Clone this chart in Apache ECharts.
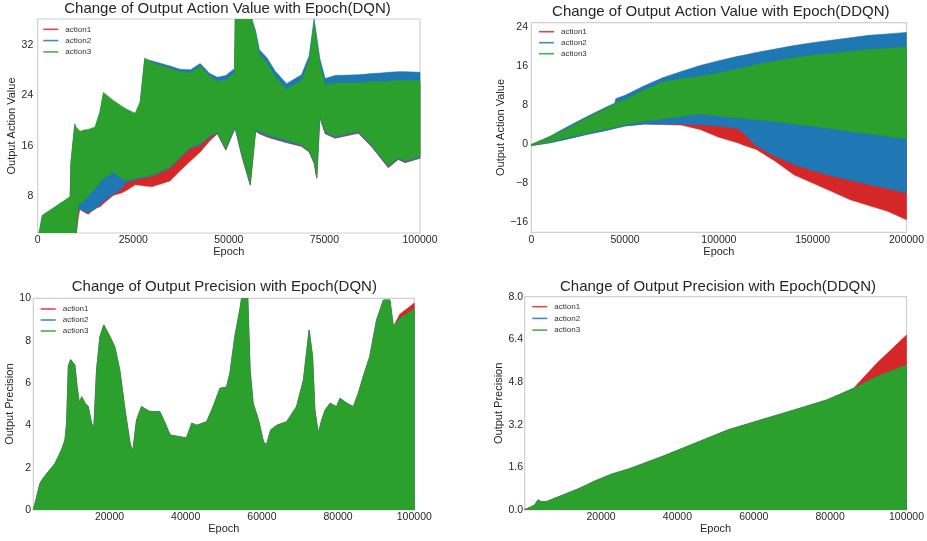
<!DOCTYPE html>
<html><head><meta charset="utf-8">
<script src="https://cdn.jsdelivr.net/npm/echarts@6/dist/echarts.min.js"></script>
<style>html,body{margin:0;padding:0;background:#fff}#c{width:927px;height:541px}</style>
</head><body><div id="c"></div>
<script>
// ---------- Top-left: Output Action Value (DQN) ----------
const tlX = [0,500,1200,8500,8700,9700,10000,10600,11100,12000,13200,15000,16300,17200,19800,22000,23300,25500,26800,28000,30000,34600,37200,40000,42500,45000,47000,49200,51500,51700,53500,55600,57000,58000,60000,62100,65100,69000,71000,72300,73000,73800,75200,77800,83900,87400,90000,91700,94300,96100,100000];
const tlA1Lo = [1.5,1.5,1.5,1.5,1.5,1.5,1.5,4.5,6.3,5.5, 5.1,6.0,6.3,6.8,8.1,8.5,8.9,9.8,9.7,9.6, 9.5,10.4,12.0,13.6,15.0,16.8,17.9,15.3,18.6,18.6, 14.1,9.7,18.3,17.9,17.4,17.0,16.5,15.9,15.0,13.2, 10.8,20.5,17.9,17.2,18.0,15.8,13.8,12.5,13.8,13.3,14.0];
const tlA1Hi = [1.5,2.3,4.6,7.5,13.0,19.0,18.5,18.0,17.7,17.9, 18.0,18.4,21.0,24.0,22.6,21.7,21.2,20.6,22.4,29.4, 28.6,27.7,27.2,27.0,28.1,26.4,25.7,25.9,26.9,37.0, 37.0,37.0,33.4,29.9,28.6,26.4,24.4,25.8,28.9,35.2, 31.9,28.4,25.1,25.4,25.4,25.6,25.6,25.7,25.8,25.8,25.8];
const tlA2Lo = [1.5,1.5,1.5,1.5,1.5,1.5,1.5,6.0,5.8,5.5, 5.4,5.9,6.6,7.1,8.3,9.2,10.2,10.6,10.8,10.9, 11.2,12.4,14.0,15.6,16.1,17.4,18.0,15.4,18.7,18.7, 14.2,9.8,18.4,18.0,17.5,17.1,16.6,16.0,15.1,13.3, 10.9,20.6,18.0,17.3,18.1,15.9,13.9,12.6,13.9,13.4,14.1];
const tlA2Hi = [1.5,2.5,4.9,7.8,13.3,19.3,18.8,18.4,18.1,18.3, 18.4,18.8,21.3,24.3,23.0,22.1,21.6,21.0,22.8,29.8, 29.5,28.7,28.2,28.1,29.1,27.5,26.9,27.2,28.3,37.0, 37.0,37.0,34.3,31.3,30.0,27.9,25.9,27.3,30.3,36.2, 33.3,29.9,26.7,27.2,27.3,27.5,27.6,27.7,27.8,27.8,27.7];
const tlA3Lo = [1.5,1.5,1.5,1.5,1.5,1.5,1.5,6.6,6.8,7.2, 8.0,9.2,10.2,10.8,11.8,10.8,10.5,10.8,11.0,11.1, 11.4,12.6,14.2,15.8,16.3,17.6,18.2,15.6,19.0,19.0, 14.5,10.0,18.7,18.3,17.8,17.4,16.9,16.2,15.3,13.5, 11.1,20.9,18.3,17.5,18.3,16.1,14.1,12.8,14.1,13.6,14.3];
const tlA3Hi = [1.5,2.5,4.9,7.9,13.5,19.5,19.0,18.6,18.3,18.5, 18.6,19.0,21.5,24.5,23.2,22.3,21.8,21.2,23.0,30.0, 29.2,28.3,27.8,27.6,28.7,27.0,26.3,26.5,27.5,37.0, 37.0,37.0,34.0,30.5,29.2,27.0,25.0,26.4,29.5,35.8, 32.5,29.0,25.7,26.0,26.0,26.2,26.2,26.3,26.4,26.4,26.4];
const tlXTicks = [0,25000,50000,75000,100000];
const tlYTicks = [8,16,24,32];

// ---------- Top-right: Output Action Value (DDQN) ----------
const trX = [0,10000,20000,30000,40000,44500,45000,50000,60000,70000,80000,90000,100000,110000,113000,120000,130000,140000,150000,160000,170000,180000,190000,200000];
const trA1Lo = [-0.2,0.4,1.25,2.15,2.95,3.35,3.4,3.85,4.2,4.1,4.0,3.1,1.5,0.35,-0.1,-1.0,-3.4,-6.2,-7.9,-9.6,-11.3,-12.5,-13.7,-15.4];
const trA1Hi = [0,1.4,3.2,5.2,7.0,7.8,8.0,8.7,10.5,12.0,12.5,13.0,13.5,14.0,14.2,14.8,15.4,16.0,16.4,16.8,17.2,17.5,17.7,18.0];
const trA2Lo = [-0.2,0.35,1.2,2.1,2.9,3.3,3.35,3.8,4.2,4.2,4.2,4.1,3.8,3.3,2.4,-0.3,-2.4,-4.1,-5.3,-6.4,-7.3,-8.2,-9.0,-9.9];
const trA2Hi = [0,1.7,3.8,5.8,7.7,8.5,9.4,10.1,12.0,13.7,15.0,16.2,17.2,18.1,18.3,18.9,19.6,20.3,20.9,21.4,21.9,22.4,22.7,23.0];
const trA3Lo = [-0.2,0.55,1.5,2.4,3.2,3.5,3.55,4.1,4.8,5.3,5.8,6.3,5.8,5.5,5.4,5.1,4.8,4.2,3.8,3.3,2.7,2.2,1.7,1.2];
const trA3Hi = [0,1.6,3.4,5.5,7.4,8.3,8.6,9.2,11.2,12.8,13.5,14.0,14.7,15.5,15.7,16.4,17.1,17.8,18.3,18.7,19.1,19.5,19.7,20.0];
const trXTicks = [0,50000,100000,150000,200000];
const trYTicks = [-16,-8,0,8,16,24];

// ---------- Bottom-left: Output Precision (DQN) ----------
const blX = [0,900,1750,2600,3900,5700,7400,8300,8750,9200,9800,10900,11500,12100,12700,13600,14400,15300,15900,16600,17500,18500,20100,21400,22700,24100,25400,26100,27100,28400,30600,33200,34600,35900,38500,40200,41600,42900,45500,47200,49000,50700,51600,52900,54200,55100,56200,56900,57700,59100,60400,61200,62300,63900,66500,69100,70900,72400,73300,73900,74800,75700,76600,77900,79600,80500,82300,84000,85300,86600,88300,90100,91900,93600,94500,96200,100000];
const blA3 = [0,0.63,1.26,1.5,1.8,2.2,2.83,3.3,4.1,6.8, 7.1,6.85,5.8,5.04,5.35,5.04,4.9,4.1,3.86,6.6, 8.2,8.74,8.2,7.7,6.6,4.7,3.15,2.76,4.25,4.88, 4.65,4.65,4.1,3.54,3.46,3.4,4.1,4.0,4.17,4.88, 5.75,5.8,6.45,8.2,9.45,10.5,10.5,6.6,5.04,4.25, 3.23,3.07,3.78,4.0,4.17,4.88,6.14,8.5,7.24,4.72, 3.62,4.25,4.72,5.04,4.88,5.28,5.04,4.88,5.51,6.3, 7.24,8.97,9.92,9.92,8.66,9.05,9.5];
const blA2 = [0,0.63,1.26,1.5,1.8,2.2,2.83,3.3,4.1,6.8, 7.1,6.85,5.8,5.04,5.35,5.04,4.9,4.1,3.86,6.6, 8.2,8.74,8.2,7.7,6.6,4.7,3.15,2.76,4.25,4.88, 4.65,4.65,4.1,3.54,3.46,3.4,4.1,4.0,4.17,4.88, 5.75,5.8,6.45,8.2,9.45,10.5,10.5,6.6,5.04,4.25, 3.23,3.07,3.78,4.0,4.17,4.88,6.14,8.5,7.24,4.72, 3.62,4.25,4.72,5.04,4.88,5.28,5.04,4.88,5.51,6.3, 7.24,8.97,9.92,9.92,8.66,9.05,9.5];
const blA1 = [0,0.63,1.26,1.5,1.8,2.2,2.83,3.3,4.1,6.8, 7.1,6.85,5.8,5.04,5.35,5.04,4.9,4.1,3.86,6.6, 8.2,8.74,8.2,7.7,6.6,4.7,3.15,2.76,4.25,4.88, 4.65,4.65,4.1,3.54,3.46,3.4,4.1,4.0,4.17,4.88, 5.75,5.8,6.45,8.2,9.45,10.5,10.5,6.6,5.04,4.25, 3.23,3.07,3.78,4.0,4.17,4.88,6.14,8.5,7.24,4.72, 3.62,4.25,4.72,5.04,4.88,5.28,5.04,4.88,5.51,6.3, 7.24,8.97,9.92,9.92,8.66,9.25,9.78];
const blXTicks = [20000,40000,60000,80000,100000];
const blYTicks = [0,2,4,6,8,10];

// ---------- Bottom-right: Output Precision (DDQN) ----------
const brX = [0,1300,2600,3500,4300,5600,10000,14300,18600,22900,27300,35900,44600,53200,61900,70600,79200,86100,92200,100000];
const brA3 = [0.02,0.09,0.19,0.38,0.31,0.31,0.56,0.81,1.1,1.35,1.54,2.0,2.5,3.0,3.38,3.75,4.13,4.56,5.0,5.44];
const brA2 = [0.02,0.09,0.19,0.38,0.31,0.31,0.56,0.81,1.1,1.35,1.54,2.0,2.5,3.0,3.38,3.75,4.13,4.56,5.0,5.44];
const brA1 = [0.02,0.09,0.19,0.38,0.31,0.31,0.56,0.81,1.1,1.35,1.54,2.0,2.5,3.0,3.38,3.75,4.13,4.56,5.5,6.56];
const brXTicks = [20000,40000,60000,80000,100000];
const brYTicks = [0,1.6,3.2,4.8,6.4,8.0];

const names = ['action1','action2','action3'];
const colors = ['#d62728','#1f77b4','#2ca02c'];
const FONT = 'Liberation Sans, Arial, Helvetica, sans-serif';
const TXT = '#262626';

// one band polygon per series, drawn from all its points through the axis scales
function band(gi, k, xs, lo, hi) {
  const data = xs.map((x, i) => [x, lo ? lo[i] : 0, hi[i]]);
  const color = colors[k];
  return {
    type: 'custom', name: names[k], xAxisIndex: gi, yAxisIndex: gi,
    clip: true, silent: true, animation: false,
    itemStyle: { color: color },
    encode: { x: 0, y: [1, 2] },
    renderItem: function (params, api) {
      if (params.dataIndexInside !== 0) return null;
      const n = params.dataInsideLength;
      const top = [], bot = [];
      for (let i = 0; i < n; i++) {
        top.push(api.coord([api.value(0, i), api.value(2, i)]));
        bot.push(api.coord([api.value(0, i), api.value(1, i)]));
      }
      return { type: 'polygon', shape: { points: top.concat(bot.reverse()) },
               style: { fill: color, stroke: color, lineWidth: 0.6 } };
    },
    data: data
  };
}

const grids = [
  { left: 37.7, top: 19, right: 507, bottom: 308 },
  { left: 531.3, top: 22.7, right: 18.3, bottom: 308.7 },
  { left: 33.3, top: 298.3, right: 512.7, bottom: 31 },
  { left: 524.7, top: 296.7, right: 17.3, bottom: 31 }
].map(g => Object.assign({ show: true, borderColor: '#d0d0d0', borderWidth: 1.2, backgroundColor: 'transparent' }, g));

const plainFmt = v => String(v);
function xAx(gi, min, max, ticks, gap) {
  return { type: 'value', gridIndex: gi, min: min, max: max,
    name: 'Epoch', nameLocation: 'middle', nameGap: gap,
    nameTextStyle: { fontSize: 11, color: TXT, fontFamily: FONT },
    axisLine: { show: false }, axisTick: { show: false }, splitLine: { show: false },
    axisLabel: { customValues: ticks, fontSize: 10.5, color: TXT, fontFamily: FONT, margin: 2,
                 showMinLabel: true, showMaxLabel: true, formatter: plainFmt } };
}
function yAx(gi, min, max, ticks, name, gap, margin, fmt) {
  return { type: 'value', gridIndex: gi, min: min, max: max,
    name: name, nameLocation: 'middle', nameGap: gap, nameRotate: 90,
    nameTextStyle: { fontSize: 11, color: TXT, fontFamily: FONT },
    axisLine: { show: false }, axisTick: { show: false }, splitLine: { show: false },
    axisLabel: { customValues: ticks, fontSize: 10.5, color: TXT, fontFamily: FONT, margin: margin,
                 showMinLabel: true, showMaxLabel: true, formatter: fmt || plainFmt } };
}
const minusFmt = v => String(v).replace('-', '\u2212');
const oneDec = v => Number(v).toFixed(1);

function legend(left, top, gap) {
  return { orient: 'vertical', left: left, top: top, padding: 0, itemGap: gap,
    itemWidth: 15, itemHeight: 1.6, icon: 'rect', selectedMode: false,
    textStyle: { fontSize: 8, color: '#333', fontFamily: FONT, lineHeight: 11, padding: [0, 0, 0, 2] },
    data: names.map((n, k) => ({ name: n, itemStyle: { color: colors[k], opacity: 0.85 } })) };
}

const series = [];
[0,1,2].forEach(k => series.push(band(0, k, tlX, [tlA1Lo,tlA2Lo,tlA3Lo][k], [tlA1Hi,tlA2Hi,tlA3Hi][k])));
[0,1,2].forEach(k => series.push(band(1, k, trX, [trA1Lo,trA2Lo,trA3Lo][k], [trA1Hi,trA2Hi,trA3Hi][k])));
[0,1,2].forEach(k => series.push(band(2, k, blX, null, [blA1,blA2,blA3][k])));
[0,1,2].forEach(k => series.push(band(3, k, brX, null, [brA1,brA2,brA3][k])));

const titleStyle = { fontSize: 15, fontWeight: 'normal', color: TXT, fontFamily: FONT };
const option = {
  animation: false,
  backgroundColor: '#ffffff',
  textStyle: { fontFamily: FONT },
  title: [
    { text: 'Change of Output Action Value with Epoch(DQN)', left: 227.5, top: 1, textAlign: 'center', padding: 0, textStyle: titleStyle },
    { text: 'Change of Output Action Value with Epoch(DDQN)', left: 720.8, top: 4, textAlign: 'center', padding: 0, textStyle: titleStyle },
    { text: 'Change of Output Precision with Epoch(DQN)', left: 224.3, top: 279, textAlign: 'center', padding: 0, textStyle: titleStyle },
    { text: 'Change of Output Precision with Epoch(DDQN)', left: 718, top: 279, textAlign: 'center', padding: 0, textStyle: titleStyle }
  ],
  legend: [ legend(43.3, 23.8, 0.3), legend(539, 26.2, 0), legend(40.7, 303.5, 0), legend(532.3, 301.2, 0.7) ],
  grid: grids,
  xAxis: [
    xAx(0, 0, 100000, tlXTicks, 10),
    xAx(1, 0, 200000, trXTicks, 10.5),
    xAx(2, 0, 100000, blXTicks, 11.5),
    xAx(3, 0, 100000, brXTicks, 11.5)
  ],
  yAxis: [
    yAx(0, 2.1, 36.2, tlYTicks, 'Output Action Value', 17, 4.4),
    yAx(1, -18, 25, trYTicks, 'Output Action Value', 22, 3.3, minusFmt),
    yAx(2, 0, 10, blYTicks, 'Output Precision', 15, 2.3),
    yAx(3, 0, 8, brYTicks, 'Output Precision', 18, 1.7, oneDec)
  ],
  series: series
};
const chart = echarts.init(document.getElementById('c'), null, { renderer: 'canvas' });
chart.setOption(option);
</script>
</body></html>
